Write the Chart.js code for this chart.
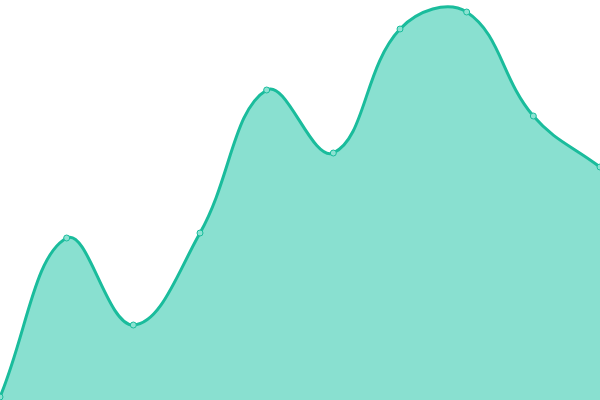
<!DOCTYPE html>
<html><head><meta charset="utf-8">
<script src="https://cdn.jsdelivr.net/npm/chart.js@4"></script>
<style>html,body{margin:0;padding:0;background:#fff}#wrap{width:600px;height:400px}</style>
</head><body><div id="wrap"><canvas id="c"></canvas></div>
<script>
const labels = ['1','2','3','4','5','6','7','8','9','10'];
const values = [3, 162, 75, 167, 310, 247, 371, 388, 284, 233];
const yMin = 0;
const yMax = 400;
new Chart(document.getElementById('c'), {
  type: 'line',
  data: { labels: labels, datasets: [{
    data: values,
    fill: true,
    tension: 0.4,
    borderColor: '#1abc9c',
    backgroundColor: '#89e0d0',
    borderWidth: 3,
    pointRadius: 3,
    pointBorderWidth: 1,
    pointBackgroundColor: '#8ce2d2',
    pointBorderColor: '#1abc9c'
  }]},
  options: {
    responsive: true, maintainAspectRatio: false, animation: false,
    layout: { padding: 0, autoPadding: false },
    plugins: { legend: { display: false }, tooltip: { enabled: false } },
    scales: {
      x: { display: false },
      y: { display: false, min: yMin, max: yMax }
    }
  }
});
</script></body></html>
